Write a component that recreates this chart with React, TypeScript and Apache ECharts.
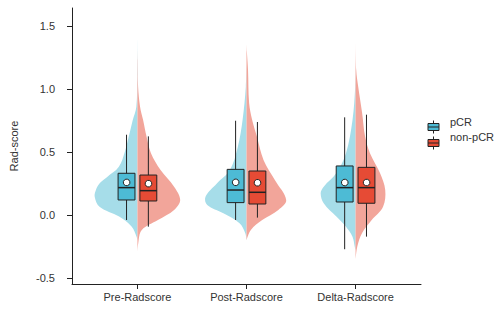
import { useEffect, useRef } from 'react';
import * as echarts from 'echarts';

// Categories on the x axis and the two response groups
const CATEGORIES = ['Pre-Radscore', 'Post-Radscore', 'Delta-Radscore'];
const GROUPS = ['pCR', 'non-pCR'];
const Y_TICKS = [-0.5, 0, 0.5, 1.0, 1.5];

// Box statistics per category: [lower whisker, Q1, median, Q3, upper whisker]
const PCR_BOX = [
  [-0.04, 0.119, 0.217, 0.331, 0.637],
  [-0.04, 0.098, 0.198, 0.362, 0.748],
  [-0.272, 0.103, 0.217, 0.389, 0.775],
];
const NONPCR_BOX = [
  [-0.093, 0.111, 0.193, 0.317, 0.624],
  [-0.021, 0.087, 0.18, 0.349, 0.738],
  [-0.172, 0.093, 0.217, 0.378, 0.796],
];
const PCR_MEAN = [0.264, 0.264, 0.264];
const NONPCR_MEAN = [0.256, 0.262, 0.264];

// Relative kernel density profiles, [score, density] from top to bottom
const PCR_DENSITY = [
  [[1.4, 0], [1.1, 0.005], [0.86, 0.025], [0.75, 0.11], [0.62, 0.2], [0.5, 0.29], [0.38, 0.43], [0.3, 0.7], [0.25, 0.87], [0.2, 0.95], [0.145, 0.98], [0.066, 0.87], [-0.013, 0.42], [-0.093, 0.13], [-0.172, 0.02], [-0.2, 0]],
  [[1.2, 0], [1.02, 0.015], [0.754, 0.09], [0.54, 0.2], [0.357, 0.38], [0.25, 0.68], [0.145, 0.94], [0.079, 0.9], [0.013, 0.53], [-0.066, 0.16], [-0.143, 0.03], [-0.2, 0]],
  [[1.2, 0], [1.02, 0.008], [0.754, 0.07], [0.49, 0.22], [0.333, 0.44], [0.225, 0.73], [0.173, 0.8], [0.093, 0.73], [-0.013, 0.44], [-0.093, 0.22], [-0.172, 0.07], [-0.25, 0.02], [-0.28, 0]],
];
const NONPCR_DENSITY = [
  [[1.42, 0], [1.23, 0.005], [1.02, 0.015], [0.86, 0.06], [0.754, 0.13], [0.62, 0.21], [0.49, 0.31], [0.357, 0.53], [0.225, 0.84], [0.119, 0.98], [0.04, 0.84], [-0.04, 0.47], [-0.119, 0.1], [-0.22, 0.02], [-0.3, 0]],
  [[1.36, 0], [1.3, 0.008], [1.15, 0.035], [0.889, 0.06], [0.754, 0.13], [0.62, 0.24], [0.437, 0.39], [0.278, 0.65], [0.119, 0.91], [0.04, 0.73], [-0.04, 0.36], [-0.119, 0.1], [-0.2, 0]],
  [[1.42, 0], [1.15, 0.015], [1.02, 0.06], [0.81, 0.15], [0.62, 0.22], [0.49, 0.33], [0.333, 0.56], [0.198, 0.68], [0.066, 0.63], [-0.04, 0.37], [-0.143, 0.15], [-0.25, 0.04], [-0.357, 0]],
];

const FONT = 'Liberation Sans, Arial, sans-serif';
const INK = '#222222';
const TEXT = '#333333';
const BLUE = '#4DBBD5';
const RED = '#E64B35';
const BLUE_SOFT = '#a6dde9';
const RED_SOFT = '#f2a59a';

const VIOLIN_HALF = 0.4; // max half-width in category units
const DODGE = 0.1;
const BOX_WIDTH = 0.155;

function violinSeries(profiles: number[][][], side: number, color: string, name: string) {
  return {
    type: 'custom',
    name,
    z: 1,
    silent: true,
    data: CATEGORIES.map((_, i) => [i + 1]),
    renderItem: (params: any, api: any) => {
      const x = api.value(0);
      const prof = profiles[params.dataIndex];
      const points = prof.map(([y, d]) => api.coord([x + side * d * VIOLIN_HALF, y]));
      return {
        type: 'polyline',
        shape: { points, smooth: 0.35 },
        style: { fill: color, stroke: null },
      };
    },
  };
}

function boxSeries(stats: number[][], means: number[], offset: number, color: string, name: string) {
  return {
    type: 'custom',
    name,
    z: 3,
    silent: true,
    data: stats.map((s, i) => [i + 1 + offset, ...s, means[i]]),
    renderItem: (_params: any, api: any) => {
      const x = api.value(0);
      const cx = api.coord([x, 0])[0];
      const py = (k: number) => api.coord([x, api.value(k)])[1];
      const yMin = py(1);
      const yQ1 = py(2);
      const yMed = py(3);
      const yQ3 = py(4);
      const yMax = py(5);
      const yMean = py(6);
      const w = api.size([BOX_WIDTH, 0])[0];
      return {
        type: 'group',
        children: [
          { type: 'line', shape: { x1: cx, y1: yMax, x2: cx, y2: yMin }, style: { stroke: INK, lineWidth: 1 } },
          { type: 'rect', shape: { x: cx - w / 2, y: yQ3, width: w, height: yQ1 - yQ3 }, style: { fill: color, stroke: INK, lineWidth: 1 } },
          { type: 'line', shape: { x1: cx - w / 2, y1: yMed, x2: cx + w / 2, y2: yMed }, style: { stroke: INK, lineWidth: 1.5 } },
          { type: 'circle', shape: { cx, cy: yMean, r: 3.3 }, style: { fill: '#ffffff', stroke: INK, lineWidth: 1 } },
        ],
      };
    },
  };
}

function legendKey(x: number, y: number, color: string) {
  return [
    { type: 'line', shape: { x1: x + 5.5, y1: y - 6.5, x2: x + 5.5, y2: y + 6.5 }, style: { stroke: INK, lineWidth: 1 } },
    { type: 'rect', shape: { x, y: y - 3.5, width: 11, height: 7 }, style: { fill: color, stroke: INK, lineWidth: 1 } },
    { type: 'line', shape: { x1: x, y1: y, x2: x + 11, y2: y }, style: { stroke: INK, lineWidth: 1 } },
  ];
}

export default function App() {
  const ref = useRef<HTMLDivElement>(null);
  useEffect(() => {
    const chart = echarts.init(ref.current as HTMLDivElement, null, { renderer: 'svg' });
    chart.setOption({
      animation: false,
      backgroundColor: '#ffffff',
      grid: { left: 60, top: 8, width: 361, height: 276 },
      xAxis: {
        type: 'value',
        min: 0.4,
        max: 3.6,
        splitLine: { show: false },
        axisLine: { show: true, onZero: false, lineStyle: { color: INK, width: 1 } },
        axisTick: { show: true, length: 5, customValues: [1, 2, 3], lineStyle: { color: INK } },
        axisLabel: {
          customValues: [1, 2, 3],
          formatter: (v: number) => CATEGORIES[Math.round(v) - 1],
          color: TEXT,
          fontSize: 11,
          fontFamily: FONT,
          margin: 7,
        },
      },
      yAxis: {
        type: 'value',
        min: -0.548,
        max: 1.643,
        name: 'Rad-score',
        nameLocation: 'middle',
        nameRotate: 90,
        nameGap: 53,
        nameTextStyle: { color: TEXT, fontSize: 11, fontFamily: FONT },
        splitLine: { show: false },
        axisLine: { show: true, onZero: false, lineStyle: { color: INK, width: 1 } },
        axisTick: { show: true, length: 5, customValues: Y_TICKS, lineStyle: { color: INK } },
        axisLabel: {
          customValues: Y_TICKS,
          formatter: (v: number) => v.toFixed(1),
          color: TEXT,
          fontSize: 11,
          fontFamily: FONT,
          margin: 17,
        },
      },
      graphic: [
        ...legendKey(428, 127, BLUE),
        ...legendKey(428, 143, RED),
        { type: 'text', x: 450, y: 122, style: { text: GROUPS[0], fill: TEXT, font: `11px ${FONT}`, verticalAlign: 'middle' } },
        { type: 'text', x: 450, y: 137, style: { text: GROUPS[1], fill: TEXT, font: `11px ${FONT}`, verticalAlign: 'middle' } },
      ],
      series: [
        violinSeries(PCR_DENSITY, -1, BLUE_SOFT, GROUPS[0]),
        violinSeries(NONPCR_DENSITY, 1, RED_SOFT, GROUPS[1]),
        boxSeries(PCR_BOX, PCR_MEAN, -DODGE, BLUE, GROUPS[0]),
        boxSeries(NONPCR_BOX, NONPCR_MEAN, DODGE, RED, GROUPS[1]),
      ],
    });
    return () => chart.dispose();
  }, []);
  return <div ref={ref} style={{ position: 'fixed', left: 0, top: 0, width: 504, height: 315 }} />;
}
